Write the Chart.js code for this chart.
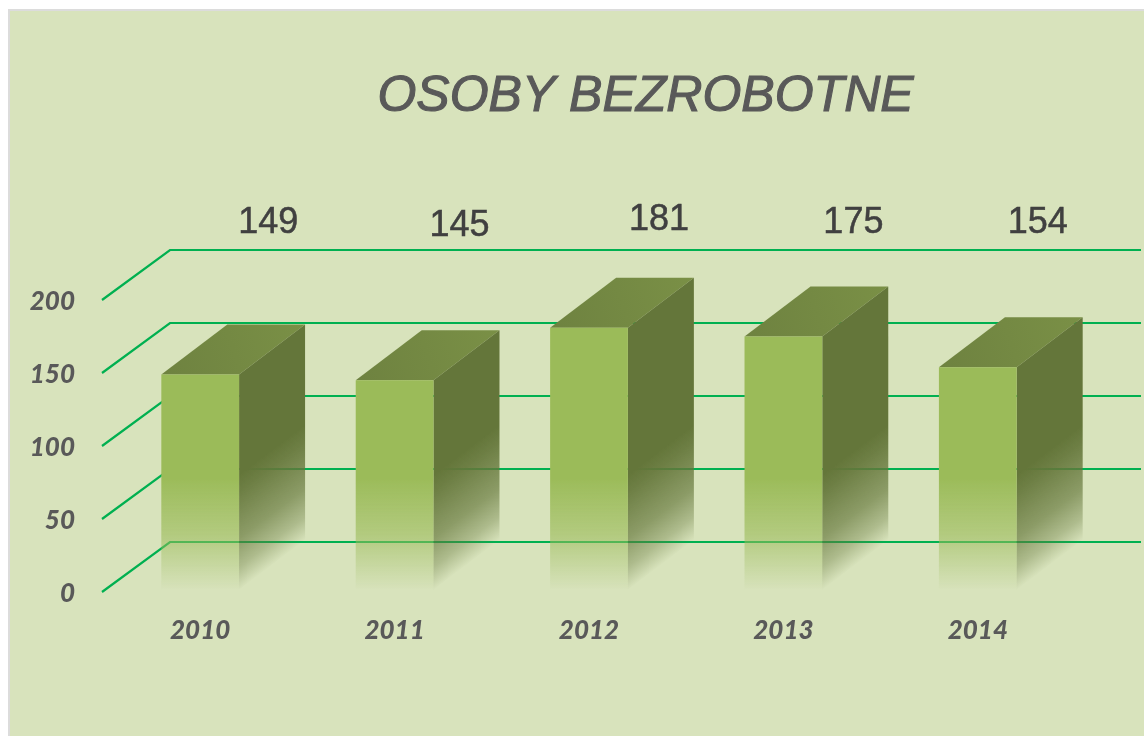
<!DOCTYPE html>
<html><head><meta charset="utf-8">
<style>
html,body{margin:0;padding:0;background:#fff;overflow:hidden}
#panel{position:absolute;left:8px;top:9px;width:1136px;height:727px;box-sizing:border-box;background:#d8e3bc;border-left:2px solid #dcdcdc;border-top:2px solid #dcdcdc}
canvas{position:absolute;left:0;top:0}
</style>
<script src="https://cdn.jsdelivr.net/npm/chart.js@4/dist/chart.umd.js"></script>
</head><body>
<div id="panel"></div>
<canvas id="c" width="1144" height="736"></canvas>
<script>
const categories = ["2010","2011","2012","2013","2014"];
const values = [149,145,181,175,154];
const titleText = "OSOBY BEZROBOTNE";
const yMin = 0, yMax = 200, yStep = 50;

// Styling of the hand-placed value labels and the 3D look
const labelNudgeX = [68,65,70,70,60];
const labelNudgeY = [-27,-24,-30,-27,-27];
const GREEN = "#00b050";
const bar = {dx:66, dy:-50, side:"100,118,58", top:"#7a9046", topDark:"#6e8240", front:"155,187,89"};
const grid = {dx:68, dy:-50};

function frontGradient(ctx, chart){
  const y0 = chart.scales.y.getPixelForValue(0);
  const g = ctx.createLinearGradient(0, y0-113, 0, y0-2);
  g.addColorStop(0, `rgba(${bar.front},1)`);
  g.addColorStop(0.06,`rgba(${bar.front},0.95)`);
  g.addColorStop(0.5,`rgba(${bar.front},0.62)`);
  g.addColorStop(1, `rgba(${bar.front},0)`);
  return g;
}

const threeD = {
  id:"threeD",
  afterLayout(chart){
    const t = chart.titleBlock;
    if(t){ t.left += 108; t.right += 108; }
  },
  beforeDatasetsDraw(chart){
    const {ctx, scales:{y}, chartArea:a} = chart;
    ctx.save();
    ctx.strokeStyle = GREEN; ctx.lineWidth = 2.2; ctx.lineJoin="miter";
    y.ticks.forEach(t=>{
      const p = y.getPixelForValue(t.value);
      ctx.beginPath();
      ctx.moveTo(a.left-1, p);
      ctx.lineTo(a.left-1+grid.dx, p+grid.dy);
      ctx.lineTo(a.right+66, p+grid.dy);
      ctx.stroke();
    });
    const meta = chart.getDatasetMeta(0);
    meta.data.forEach(el=>{
      const hw = el.width/2, r = el.x+hw, l = el.x-hw, top = el.y, base = el.base-2;
      ctx.beginPath();
      ctx.moveTo(l,top); ctx.lineTo(r,top); ctx.lineTo(r+bar.dx,top+bar.dy); ctx.lineTo(l+bar.dx,top+bar.dy); ctx.closePath();
      const tg = ctx.createLinearGradient(l,top,r+bar.dx,top+bar.dy);
      tg.addColorStop(0,bar.topDark); tg.addColorStop(1,bar.top);
      ctx.fillStyle = tg; ctx.fill();
      ctx.save();
      ctx.transform(1, bar.dy/bar.dx, 0, 1, r, 0);
      const g = ctx.createLinearGradient(0, base-115, 0, base);
      g.addColorStop(0,`rgba(${bar.side},1)`);
      g.addColorStop(0.15,`rgba(${bar.side},0.92)`);
      g.addColorStop(0.55,`rgba(${bar.side},0.66)`);
      g.addColorStop(0.8,`rgba(${bar.side},0.36)`);
      g.addColorStop(1,`rgba(${bar.side},0)`);
      ctx.fillStyle = g;
      ctx.fillRect(0, top, bar.dx, base-top);
      ctx.restore();
    });
    ctx.restore();
  },
  afterDatasetsDraw(chart){
    const {ctx, scales:{y}} = chart;
    const backTop = y.getPixelForValue(yMax)+grid.dy;
    ctx.save();
    ctx.font = '36px "Liberation Sans"';
    ctx.fillStyle = "#404040";
    ctx.strokeStyle = "#404040"; ctx.lineWidth = 0.5;
    ctx.textAlign = "center"; ctx.textBaseline="middle";
    chart.getDatasetMeta(0).data.forEach((el,i)=>{
      const x = el.x+labelNudgeX[i], yy = backTop+labelNudgeY[i];
      ctx.fillText(String(values[i]), x, yy);
      ctx.strokeText(String(values[i]), x, yy);
    });
    const t = chart.titleBlock;
    const o = chart.options.plugins.title;
    ctx.font = `italic ${o.font.size}px "Liberation Sans"`;
    ctx.strokeStyle = o.color; ctx.lineWidth = 1.1;
    ctx.strokeText(titleText, (t.left+t.right)/2, t.top+o.padding.top+o.font.size/2);
    ctx.restore();
  }
};

const tickFont = {family:'Lato', size:26, weight:'900', style:'italic'};
new Chart(document.getElementById("c"),{
  type:"bar",
  data:{labels:categories, datasets:[{
    data:values,
    barPercentage:0.4, categoryPercentage:1,
    backgroundColor:(c)=>c.chart.chartArea?frontGradient(c.chart.ctx,c.chart):"rgb(155,187,89)",
    borderWidth:0
  }]},
  plugins:[threeD],
  options:{
    responsive:false, animation:false,
    layout:{padding:{left:0,right:69,top:0,bottom:0}},
    plugins:{
      legend:{display:false},
      tooltip:{enabled:false},
      title:{display:true,text:titleText,color:"#595959",
        font:{family:'Liberation Sans',size:50,style:'italic',weight:'normal',lineHeight:1},
        padding:{top:72,bottom:178}}
    },
    scales:{
      x:{
        grid:{display:false},border:{display:false},
        ticks:{color:"#595959",font:tickFont,padding:15,maxRotation:0},
        afterFit(s){s.height=144;}
      },
      y:{
        min:yMin,max:yMax,
        grid:{display:false},border:{display:false},
        ticks:{stepSize:yStep,color:"#595959",font:tickFont,padding:20,labelOffset:2},
        afterFit(s){s.width=103;}
      }
    }
  }
});
</script>
</body></html>
